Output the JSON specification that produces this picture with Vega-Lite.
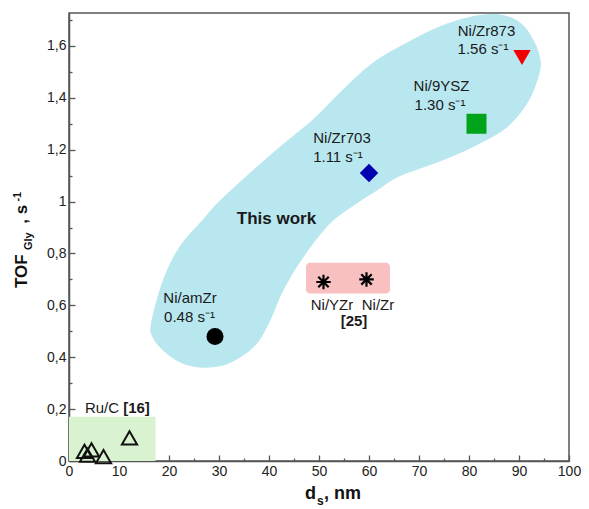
{
  "$schema": "https://vega.github.io/schema/vega-lite/v6.json",
  "width": 500,
  "height": 448,
  "autosize": {"type": "none"},
  "padding": {"left": 69, "top": 13, "right": 20, "bottom": 48},
  "config": {
    "view": {"stroke": "#555555", "strokeWidth": 1.5},
    "font": "Liberation Sans",
    "axis": {"domainColor": "#555555", "domainWidth": 1.5, "tickColor": "#555555", "tickWidth": 1.3, "labelFont": "Liberation Sans", "labelFontSize": 14, "labelColor": "#222222", "grid": false, "title": null},
    "text": {"font": "Liberation Sans", "fontSize": 15, "color": "#1a1a1a"}
  },
  "datasets": {
    "blob": [
      {"i": 1, "ds": 16.5, "tof": 0.531}, {"i": 2, "ds": 18.9, "tof": 0.698}, {"i": 3, "ds": 22.2, "tof": 0.826},
      {"i": 4, "ds": 26.8, "tof": 0.929}, {"i": 5, "ds": 30.6, "tof": 1.01}, {"i": 6, "ds": 40.8, "tof": 1.187},
      {"i": 7, "ds": 48.8, "tof": 1.315}, {"i": 8, "ds": 54.2, "tof": 1.419}, {"i": 9, "ds": 60.8, "tof": 1.534},
      {"i": 10, "ds": 67.6, "tof": 1.611}, {"i": 11, "ds": 74.2, "tof": 1.674}, {"i": 12, "ds": 80.8, "tof": 1.713},
      {"i": 13, "ds": 86.2, "tof": 1.719}, {"i": 14, "ds": 90.2, "tof": 1.689}, {"i": 15, "ds": 92.8, "tof": 1.623},
      {"i": 16, "ds": 94.2, "tof": 1.546}, {"i": 17, "ds": 93.8, "tof": 1.48}, {"i": 18, "ds": 91.6, "tof": 1.38},
      {"i": 19, "ds": 87.6, "tof": 1.288}, {"i": 20, "ds": 82.2, "tof": 1.226}, {"i": 21, "ds": 76.2, "tof": 1.172},
      {"i": 22, "ds": 70.8, "tof": 1.133}, {"i": 23, "ds": 65.6, "tof": 1.095}, {"i": 24, "ds": 61.6, "tof": 1.045},
      {"i": 25, "ds": 57.6, "tof": 0.995}, {"i": 26, "ds": 52.2, "tof": 0.917}, {"i": 27, "ds": 46.8, "tof": 0.786},
      {"i": 28, "ds": 42.8, "tof": 0.659}, {"i": 29, "ds": 40.2, "tof": 0.544}, {"i": 30, "ds": 37.6, "tof": 0.455},
      {"i": 31, "ds": 34.2, "tof": 0.401}, {"i": 32, "ds": 30.8, "tof": 0.37}, {"i": 33, "ds": 26.2, "tof": 0.362},
      {"i": 34, "ds": 22.2, "tof": 0.382}, {"i": 35, "ds": 18.8, "tof": 0.428}, {"i": 36, "ds": 16.8, "tof": 0.478}
    ],
    "boxes": [
      {"group": "[25]", "ds": 47.4, "ds2": 64.2, "tof": 0.646, "tof2": 0.764},
      {"group": "[16]", "ds": 0, "ds2": 17.3, "tof": 0, "tof2": 0.171}
    ],
    "points": [
      {"catalyst": "Ni/amZr", "ds": 29.2, "tof": 0.48},
      {"catalyst": "Ni/Zr703", "ds": 60.0, "tof": 1.11},
      {"catalyst": "Ni/9YSZ", "ds": 81.5, "tof": 1.30},
      {"catalyst": "Ni/Zr873", "ds": 90.6, "tof": 1.555},
      {"catalyst": "Ni/YZr", "ds": 50.9, "tof": 0.69},
      {"catalyst": "Ni/Zr", "ds": 59.5, "tof": 0.70},
      {"catalyst": "Ru/C", "ds": 3.1, "tof": 0.037},
      {"catalyst": "Ru/C", "ds": 4.5, "tof": 0.043},
      {"catalyst": "Ru/C", "ds": 3.7, "tof": 0.022},
      {"catalyst": "Ru/C", "ds": 6.9, "tof": 0.017},
      {"catalyst": "Ru/C", "ds": 12.1, "tof": 0.089}
    ],
    "labels": [
      {"text": "Ni/Zr873", "ds": 83.5, "tof": 1.659, "kind": "name"},
      {"text": "1.56 s⁻¹", "ds": 82.8, "tof": 1.587, "kind": "name"},
      {"text": "Ni/9YSZ", "ds": 74.5, "tof": 1.446, "kind": "name"},
      {"text": "1.30 s⁻¹", "ds": 74.2, "tof": 1.372, "kind": "name"},
      {"text": "Ni/Zr703", "ds": 54.6, "tof": 1.244, "kind": "name"},
      {"text": "1.11 s⁻¹", "ds": 53.8, "tof": 1.172, "kind": "name"},
      {"text": "Ni/amZr", "ds": 24.2, "tof": 0.627, "kind": "name"},
      {"text": "0.48 s⁻¹", "ds": 24.1, "tof": 0.556, "kind": "name"},
      {"text": "Ni/YZr", "ds": 52.6, "tof": 0.603, "kind": "name"},
      {"text": "Ni/Zr", "ds": 61.8, "tof": 0.603, "kind": "name"},
      {"text": "Ru/C", "ds": 6.6, "tof": 0.204, "kind": "name"},
      {"text": "[25]", "ds": 57.0, "tof": 0.54, "kind": "ref"},
      {"text": "[16]", "ds": 13.5, "tof": 0.204, "kind": "ref"},
      {"text": "This work", "ds": 41.5, "tof": 0.932, "kind": "group"}
    ],
    "xtitle": [
      {"text": "d", "ds": 47.2, "tof": -0.148, "part": "main"},
      {"text": "s", "ds": 49.6, "tof": -0.168, "part": "sub"},
      {"text": ", nm", "ds": 51.0, "tof": -0.148, "part": "main"}
    ],
    "ytitle": [
      {"text": "TOF", "ds": -8.4, "tof": 0.667, "part": "main"},
      {"text": "Gly", "ds": -7.5, "tof": 0.813, "part": "sub"},
      {"text": ", s", "ds": -8.4, "tof": 0.915, "part": "main"},
      {"text": "-1", "ds": -9.6, "tof": 1.0, "part": "sup"}
    ]
  },
  "encoding": {
    "x": {"field": "ds", "type": "quantitative", "scale": {"domain": [0, 100], "nice": false},
      "axis": {"values": [0,5,10,15,20,25,30,35,40,45,50,55,60,65,70,75,80,85,90,95,100],
        "labelExpr": "datum.value % 10 == 0 ? format(datum.value, 'd') : ''",
        "labelFlush": false, "labelOverlap": false,
        "tickSize": {"condition": {"test": "datum.value % 10 == 0", "value": -6}, "value": -3},
        "labelPadding": 9}},
    "y": {"field": "tof", "type": "quantitative", "scale": {"domain": [0, 1.727], "nice": false},
      "axis": {"values": [0,0.1,0.2,0.3,0.4,0.5,0.6,0.7,0.8,0.9,1,1.1,1.2,1.3,1.4,1.5,1.6,1.7],
        "labelExpr": "round(datum.value*10) % 2 == 0 ? replace(format(datum.value, '~g'), '.', ',') : ''",
        "labelOverlap": false,
        "tickSize": {"condition": {"test": "round(datum.value*10) % 2 == 0", "value": -6}, "value": -3},
        "labelPadding": 9}}
  },
  "layer": [
    {"data": {"name": "blob"},
     "mark": {"type": "line", "interpolate": "cardinal-closed", "fill": "#b8e7ef", "stroke": "#b8e7ef", "strokeWidth": 1},
     "encoding": {"order": {"field": "i", "type": "quantitative"}}},
    {"data": {"name": "boxes"}, "transform": [{"filter": "datum.group == '[25]'"}],
     "mark": {"type": "rect", "color": "#f8c0c0", "cornerRadius": 4},
     "encoding": {"x2": {"field": "ds2"}, "y2": {"field": "tof2"}}},
    {"data": {"name": "boxes"}, "transform": [{"filter": "datum.group == '[16]'"}],
     "mark": {"type": "rect", "color": "#d9f2d0"},
     "encoding": {"x2": {"field": "ds2"}, "y2": {"field": "tof2"}}},
    {"data": {"name": "points"}, "transform": [{"filter": "datum.catalyst == 'Ru/C'"}],
     "mark": {"type": "point", "shape": "triangle-up", "filled": false, "stroke": "#111111", "strokeWidth": 2, "opacity": 1, "size": 230}},
    {"data": {"name": "points"}, "transform": [{"filter": "datum.catalyst == 'Ni/YZr' || datum.catalyst == 'Ni/Zr'"}],
     "mark": {"type": "point", "shape": "M-1,0L1,0M0,-1L0,1M-0.72,-0.72L0.72,0.72M-0.72,0.72L0.72,-0.72", "filled": false, "stroke": "#000000", "strokeWidth": 2.2, "opacity": 1, "size": 210}},
    {"data": {"name": "points"}, "transform": [{"filter": "datum.catalyst == 'Ni/amZr'"}],
     "mark": {"type": "point", "shape": "circle", "filled": true, "color": "#000000", "opacity": 1, "size": 290}},
    {"data": {"name": "points"}, "transform": [{"filter": "datum.catalyst == 'Ni/Zr703'"}],
     "mark": {"type": "point", "shape": "diamond", "filled": true, "color": "#0000b0", "opacity": 1, "size": 340}},
    {"data": {"name": "points"}, "transform": [{"filter": "datum.catalyst == 'Ni/9YSZ'"}],
     "mark": {"type": "point", "shape": "square", "filled": true, "color": "#00a41a", "opacity": 1, "size": 400}},
    {"data": {"name": "points"}, "transform": [{"filter": "datum.catalyst == 'Ni/Zr873'"}],
     "mark": {"type": "point", "shape": "triangle-down", "filled": true, "color": "#f00000", "opacity": 1, "size": 300}},
    {"data": {"name": "labels"}, "transform": [{"filter": "datum.kind == 'name'"}],
     "mark": {"type": "text", "baseline": "middle", "align": "center"},
     "encoding": {"text": {"field": "text"}}},
    {"data": {"name": "labels"}, "transform": [{"filter": "datum.kind == 'ref'"}],
     "mark": {"type": "text", "baseline": "middle", "align": "center", "fontWeight": "bold"},
     "encoding": {"text": {"field": "text"}}},
    {"data": {"name": "labels"}, "transform": [{"filter": "datum.kind == 'group'"}],
     "mark": {"type": "text", "baseline": "middle", "align": "center", "fontWeight": "bold", "fontSize": 17},
     "encoding": {"text": {"field": "text"}}},
    {"data": {"name": "xtitle"}, "transform": [{"filter": "datum.part == 'main'"}],
     "mark": {"type": "text", "baseline": "alphabetic", "align": "left", "fontWeight": "bold", "fontSize": 18, "color": "#111111"},
     "encoding": {"text": {"field": "text"}}},
    {"data": {"name": "xtitle"}, "transform": [{"filter": "datum.part == 'sub'"}],
     "mark": {"type": "text", "baseline": "alphabetic", "align": "left", "fontWeight": "bold", "fontSize": 12, "color": "#111111"},
     "encoding": {"text": {"field": "text"}}},
    {"data": {"name": "ytitle"}, "transform": [{"filter": "datum.part == 'main'"}],
     "mark": {"type": "text", "baseline": "alphabetic", "align": "left", "angle": 270, "fontWeight": "bold", "fontSize": 17, "color": "#111111"},
     "encoding": {"text": {"field": "text"}}},
    {"data": {"name": "ytitle"}, "transform": [{"filter": "datum.part != 'main'"}],
     "mark": {"type": "text", "baseline": "alphabetic", "align": "left", "angle": 270, "fontWeight": "bold", "fontSize": 11, "color": "#111111"},
     "encoding": {"text": {"field": "text"}}}
  ]
}
